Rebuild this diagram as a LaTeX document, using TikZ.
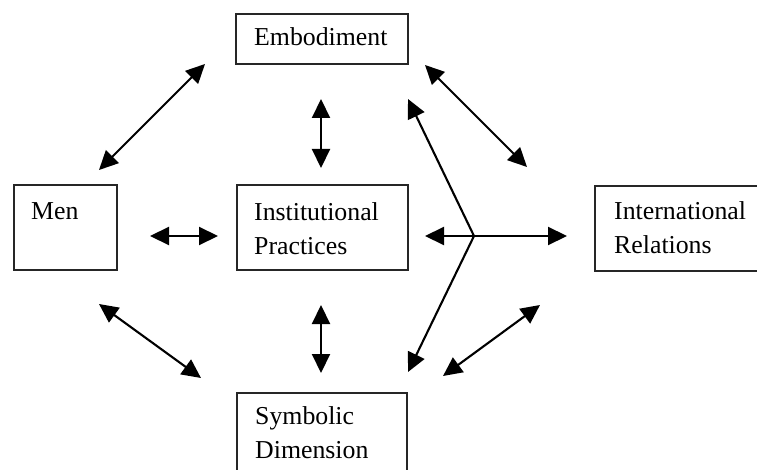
\documentclass[tikz,border=0pt]{standalone}
\usepackage{fontspec}
\setmainfont{Liberation Serif}
\usetikzlibrary{arrows.meta}
\begin{document}
\begin{tikzpicture}[x=1pt,y=-1pt,
  box/.style={draw=black!85,line width=1.8pt,rectangle,inner sep=0pt,anchor=north west},
  lbl/.style={inner sep=0pt,anchor=north west,align=left,font=\fontsize{25.8}{34.5}\selectfont},
  tip/.tip={Triangle[length=19pt,width=18pt]},
  dbl/.style={line width=2.1pt,tip-tip},
  sgl/.style={line width=2.1pt,-tip}]
\useasboundingbox (0,0) rectangle (757,470);
\clip (0,0) rectangle (757,470);
% boxes
\node[box,minimum width=172pt,minimum height=50pt] (emb) at (235,13) {};
\node[box,minimum width=103pt,minimum height=85pt] (men) at (13,184) {};
\node[box,minimum width=171pt,minimum height=85pt] (inst) at (236,184) {};
\node[box,minimum width=180pt,minimum height=85pt] (ir) at (594,185) {};
\node[box,minimum width=170pt,minimum height=100pt] (sym) at (236,392) {};
% labels
\node[lbl] (embT) at ([xshift=19pt,yshift=-14pt]emb.north west) {Embodiment};
\node[lbl] (menT) at ([xshift=18pt,yshift=-18pt]men.north west) {Men};
\node[lbl] (instT) at ([xshift=18pt,yshift=-18pt]inst.north west) {Institutional\\Practices};
\node[lbl] (irT) at ([xshift=20pt,yshift=-16pt]ir.north west) {International\\Relations};
\node[lbl] (symT) at ([xshift=19pt,yshift=-14pt]sym.north west) {Symbolic\\Dimension};
% arrow end points
\coordinate (a1) at (99,170);  \coordinate (a2) at (205,64);
\coordinate (b1) at (321,99);  \coordinate (b2) at (321,168);
\coordinate (c1) at (150,236); \coordinate (c2) at (218,236);
\coordinate (d1) at (321,305); \coordinate (d2) at (321,373);
\coordinate (e1) at (99,304);  \coordinate (e2) at (201,378);
\coordinate (f1) at (425,65);  \coordinate (f2) at (527,167);
\coordinate (g1) at (443,376); \coordinate (g2) at (540,305);
\coordinate (j) at (474,236);
\coordinate (jl) at (425,236); \coordinate (jr) at (567,236);
\coordinate (ju) at (408,99);  \coordinate (jd) at (408,372);
% connectors
\draw[dbl] (a1) -- (a2);
\draw[dbl] (b1) -- (b2);
\draw[dbl] (c1) -- (c2);
\draw[dbl] (d1) -- (d2);
\draw[dbl] (e1) -- (e2);
\draw[dbl] (f1) -- (f2);
\draw[dbl] (g1) -- (g2);
\draw[sgl] (j) -- (jl);
\draw[sgl] (j) -- (jr);
\draw[sgl] (j) -- (ju);
\draw[sgl] (j) -- (jd);
\end{tikzpicture}
\end{document}
